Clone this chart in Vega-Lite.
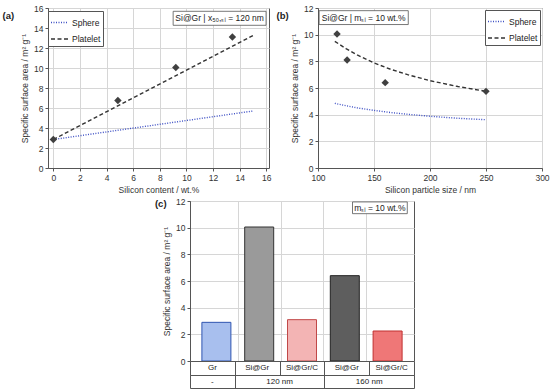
{
  "$schema": "https://vega.github.io/schema/vega-lite/v6.json",
  "background": "white",
  "padding": {"left": 2, "top": 3, "right": 0, "bottom": 0},
  "config": {
    "font": "Liberation Sans",
    "view": {"stroke": "#555", "strokeWidth": 1},
    "axis": {"labelFont": "Liberation Sans", "labelFontSize": 8.5, "labelColor": "#333", "titleFont": "Liberation Sans", "titleFontSize": 8.5, "titleFontWeight": "normal", "titleColor": "#333", "gridColor": "#d6d6d6", "domainColor": "#555", "tickColor": "#555", "tickSize": 3, "labelPadding": 2, "labelFlush": false, "labelOverlap": false, "labelBound": false, "titlePadding": 4},
    "legend": {"labelFont": "Liberation Sans", "labelFontSize": 8.5, "labelColor": "#222"},
    "text": {"font": "Liberation Sans"}
  },
  "datasets": {
    "a_model": [
      {"si": 0, "ssa": 2.85, "model": "Sphere"},
      {"si": 15, "ssa": 5.7, "model": "Sphere"},
      {"si": 0, "ssa": 2.85, "model": "Platelet"},
      {"si": 15, "ssa": 13.25, "model": "Platelet"}
    ],
    "a_meas": [
      {"si": 0, "ssa": 2.85},
      {"si": 4.85, "ssa": 6.75},
      {"si": 9.2, "ssa": 10.05},
      {"si": 13.45, "ssa": 13.1}
    ],
    "b_model": [
      {"d": 115, "ssa": 4.85, "model": "Sphere"},
      {"d": 125, "ssa": 4.67, "model": "Sphere"},
      {"d": 135, "ssa": 4.51, "model": "Sphere"},
      {"d": 150, "ssa": 4.32, "model": "Sphere"},
      {"d": 165, "ssa": 4.16, "model": "Sphere"},
      {"d": 180, "ssa": 4.03, "model": "Sphere"},
      {"d": 200, "ssa": 3.88, "model": "Sphere"},
      {"d": 225, "ssa": 3.73, "model": "Sphere"},
      {"d": 250, "ssa": 3.62, "model": "Sphere"},
      {"d": 115, "ssa": 9.5, "model": "Platelet"},
      {"d": 125, "ssa": 8.95, "model": "Platelet"},
      {"d": 135, "ssa": 8.48, "model": "Platelet"},
      {"d": 150, "ssa": 7.88, "model": "Platelet"},
      {"d": 165, "ssa": 7.4, "model": "Platelet"},
      {"d": 180, "ssa": 7.0, "model": "Platelet"},
      {"d": 200, "ssa": 6.55, "model": "Platelet"},
      {"d": 225, "ssa": 6.11, "model": "Platelet"},
      {"d": 250, "ssa": 5.75, "model": "Platelet"}
    ],
    "b_meas": [
      {"d": 117, "ssa": 10.05},
      {"d": 126, "ssa": 8.1},
      {"d": 160, "ssa": 6.4},
      {"d": 250, "ssa": 5.75}
    ],
    "c_bars": [
      {"pos": 1, "id": "Gr", "sample": "Gr", "size": "-", "ssa": 2.9},
      {"pos": 2, "id": "Si@Gr 120", "sample": "Si@Gr", "size": "120 nm", "ssa": 10.05},
      {"pos": 3, "id": "Si@Gr/C 120", "sample": "Si@Gr/C", "size": "120 nm", "ssa": 3.1},
      {"pos": 4, "id": "Si@Gr 160", "sample": "Si@Gr", "size": "160 nm", "ssa": 6.4},
      {"pos": 5, "id": "Si@Gr/C 160", "sample": "Si@Gr/C", "size": "160 nm", "ssa": 2.25}
    ]
  },
  "vconcat": [
    {
      "hconcat": [
        {
          "width": 221,
          "height": 160,
          "layer": [
            {
              "data": {"name": "a_model"},
              "mark": {"type": "line", "strokeWidth": 1.4},
              "encoding": {
                "x": {"field": "si", "type": "quantitative", "scale": {"domain": [-0.4, 16.2], "nice": false, "zero": false}, "axis": {"values": [0, 2, 4, 6, 8, 10, 12, 14, 16], "tickCount": 50, "format": "d", "labelOverlap": false, "title": "Silicon content / wt.%"}},
                "y": {"field": "ssa", "type": "quantitative", "scale": {"domain": [0, 16], "nice": false}, "axis": {"values": [0, 2, 4, 6, 8, 10, 12, 14, 16], "tickCount": 50, "format": "d", "labelOverlap": false, "title": "Specific surface area / m² g⁻¹"}},
                "color": {"field": "model", "type": "nominal", "scale": {"domain": ["Sphere", "Platelet"], "range": ["#3d4fc4", "#333333"]}, "legend": {"title": null, "orient": "none", "legendX": 0, "legendY": 3, "strokeColor": "#555", "fillColor": "white", "padding": 2, "symbolType": "stroke", "symbolSize": 289, "symbolStrokeWidth": 1.5, "labelOffset": 3, "rowPadding": 2.5, "labelFontSize": 8.5}},
                "strokeDash": {"field": "model", "type": "nominal", "scale": {"domain": ["Sphere", "Platelet"], "range": [[1, 1.5], [4, 2.5]]}, "legend": {"title": null, "orient": "none", "legendX": 0, "legendY": 3, "strokeColor": "#555", "fillColor": "white", "padding": 2, "symbolType": "stroke", "symbolSize": 289, "symbolStrokeWidth": 1.5, "labelOffset": 3, "rowPadding": 2.5, "labelFontSize": 8.5}}
              }
            },
            {
              "data": {"name": "a_meas"},
              "mark": {"type": "point", "shape": "diamond", "filled": true, "size": 55, "color": "#404040", "opacity": 1},
              "encoding": {
                "x": {"field": "si", "type": "quantitative"},
                "y": {"field": "ssa", "type": "quantitative"}
              }
            },
            {
              "data": {"values": [{}]},
              "mark": {"type": "rect", "fill": "white", "stroke": "#555", "strokeWidth": 0.8},
              "encoding": {"x": {"datum": 9.0}, "x2": {"datum": 15.98}, "y": {"datum": 15.67}, "y2": {"datum": 14.27}}
            },
            {
              "data": {"values": [{}]},
              "mark": {"type": "text", "fontSize": 8.5, "color": "#222"},
              "encoding": {"x": {"datum": 12.49}, "y": {"datum": 14.97}, "text": {"value": "Si@Gr | x₅₀,ₛᵢ = 120 nm"}}
            },
            {
              "data": {"values": [{}]},
              "mark": {"type": "text", "fontSize": 9.5, "fontWeight": "bold", "color": "#222", "clip": false},
              "encoding": {"x": {"datum": -3.38}, "y": {"datum": 15.17}, "text": {"value": "(a)"}}
            }
          ]
        },
        {
          "width": 224,
          "height": 160,
          "layer": [
            {
              "data": {"name": "b_model"},
              "mark": {"type": "line", "strokeWidth": 1.4},
              "encoding": {
                "x": {"field": "d", "type": "quantitative", "scale": {"domain": [100, 300], "nice": false, "zero": false}, "axis": {"values": [100, 150, 200, 250, 300], "tickCount": 50, "format": "d", "labelOverlap": false, "title": "Silicon particle size / nm"}},
                "y": {"field": "ssa", "type": "quantitative", "scale": {"domain": [0, 12], "nice": false}, "axis": {"values": [0, 2, 4, 6, 8, 10, 12], "tickCount": 50, "format": "d", "labelOverlap": false, "title": "Specific surface area / m² g⁻¹"}},
                "color": {"field": "model", "type": "nominal", "scale": {"domain": ["Sphere", "Platelet"], "range": ["#3d4fc4", "#333333"]}, "legend": {"title": null, "orient": "top-right", "offset": 2, "strokeColor": "#555", "fillColor": "white", "padding": 2, "symbolType": "stroke", "symbolSize": 289, "symbolStrokeWidth": 1.5, "labelOffset": 3, "rowPadding": 2.5, "labelFontSize": 8.5}},
                "strokeDash": {"field": "model", "type": "nominal", "scale": {"domain": ["Sphere", "Platelet"], "range": [[1, 1.5], [4, 2.5]]}, "legend": {"title": null, "orient": "top-right", "offset": 2, "strokeColor": "#555", "fillColor": "white", "padding": 2, "symbolType": "stroke", "symbolSize": 289, "symbolStrokeWidth": 1.5, "labelOffset": 3, "rowPadding": 2.5, "labelFontSize": 8.5}}
              }
            },
            {
              "data": {"name": "b_meas"},
              "mark": {"type": "point", "shape": "diamond", "filled": true, "size": 55, "color": "#404040", "opacity": 1},
              "encoding": {
                "x": {"field": "d", "type": "quantitative"},
                "y": {"field": "ssa", "type": "quantitative"}
              }
            },
            {
              "data": {"values": [{}]},
              "mark": {"type": "rect", "fill": "white", "stroke": "#555", "strokeWidth": 0.8},
              "encoding": {"x": {"datum": 101}, "x2": {"datum": 180.6}, "y": {"datum": 11.8}, "y2": {"datum": 10.76}}
            },
            {
              "data": {"values": [{}]},
              "mark": {"type": "text", "fontSize": 8.5, "color": "#222"},
              "encoding": {"x": {"datum": 140.8}, "y": {"datum": 11.28}, "text": {"value": "Si@Gr | mₛᵢ = 10 wt.%"}}
            },
            {
              "data": {"values": [{}]},
              "mark": {"type": "text", "fontSize": 9.5, "fontWeight": "bold", "color": "#222", "clip": false},
              "encoding": {"x": {"datum": 68.4}, "y": {"datum": 11.38}, "text": {"value": "(b)"}}
            }
          ]
        }
      ],
      "spacing": 49,
      "bounds": "flush"
    },
    {
      "hconcat": [
        {
          "width": 142,
          "height": 10,
          "data": {"values": [{}]},
          "mark": {"type": "text", "text": " "},
          "encoding": {},
          "view": {"stroke": null}
        },
        {
          "vconcat": [
            {
              "width": 224,
              "height": 160,
              "layer": [
                {
                  "data": {"name": "c_bars"},
                  "mark": {"type": "bar", "width": 29, "strokeWidth": 1},
                  "encoding": {
                    "x": {"field": "pos", "type": "quantitative", "scale": {"domain": [0.5, 5.5], "nice": false, "zero": false}, "axis": {"values": [1.5, 2.5, 3.5, 4.5], "tickCount": 50, "labels": false, "ticks": false, "domain": false, "title": null, "grid": true}},
                    "y": {"field": "ssa", "type": "quantitative", "scale": {"domain": [0, 12], "nice": false}, "axis": {"values": [0, 2, 4, 6, 8, 10, 12], "tickCount": 50, "format": "d", "labelOverlap": false, "title": "Specific surface area / m² g⁻¹"}},
                    "fill": {"field": "id", "type": "nominal", "scale": {"domain": ["Gr", "Si@Gr 120", "Si@Gr/C 120", "Si@Gr 160", "Si@Gr/C 160"], "range": ["#a8bfee", "#9a9a9a", "#f3b4b4", "#5e5e5e", "#ef7777"]}, "legend": null},
                    "stroke": {"field": "id", "type": "nominal", "scale": {"domain": ["Gr", "Si@Gr 120", "Si@Gr/C 120", "Si@Gr 160", "Si@Gr/C 160"], "range": ["#2f55b0", "#333333", "#c04848", "#222222", "#c03030"]}, "legend": null}
                  }
                },
                {
                  "data": {"values": [{}]},
                  "mark": {"type": "rect", "fill": "white", "stroke": "#555", "strokeWidth": 0.8},
                  "encoding": {"x": {"datum": 4.18}, "x2": {"datum": 5.46}, "y": {"datum": 11.93}, "y2": {"datum": 11.05}}
                },
                {
                  "data": {"values": [{}]},
                  "mark": {"type": "text", "fontSize": 8.5, "color": "#222"},
                  "encoding": {"x": {"datum": 4.82}, "y": {"datum": 11.49}, "text": {"value": "mₛᵢ = 10 wt.%"}}
                },
                {
                  "data": {"values": [{}]},
                  "mark": {"type": "text", "fontSize": 9.5, "fontWeight": "bold", "color": "#222", "clip": false},
                  "encoding": {"x": {"datum": -0.3}, "y": {"datum": 11.8}, "text": {"value": "(c)"}}
                }
              ]
            },
            {
              "width": 224,
              "height": 14,
              "data": {"name": "c_bars"},
              "mark": {"type": "text", "fontSize": 8, "color": "#222"},
              "encoding": {
                "x": {"field": "pos", "type": "quantitative", "scale": {"domain": [0.5, 5.5], "nice": false, "zero": false}, "axis": {"values": [1.5, 2.5, 3.5, 4.5], "tickCount": 50, "labels": false, "ticks": false, "domain": false, "title": null, "grid": true, "gridColor": "#555"}},
                "text": {"field": "sample", "type": "nominal"}
              }
            },
            {
              "width": 224,
              "height": 13,
              "data": {"name": "c_bars"},
              "mark": {"type": "text", "fontSize": 8, "color": "#222"},
              "encoding": {
                "x": {"aggregate": "mean", "field": "pos", "type": "quantitative", "scale": {"domain": [0.5, 5.5], "nice": false, "zero": false}, "axis": {"values": [1.5, 3.5], "tickCount": 50, "labels": false, "ticks": false, "domain": false, "title": null, "grid": true, "gridColor": "#555"}},
                "text": {"field": "size", "type": "nominal"}
              }
            }
          ],
          "spacing": 0,
          "bounds": "flush"
        }
      ],
      "spacing": 0,
      "bounds": "flush"
    }
  ],
  "spacing": 1
}
